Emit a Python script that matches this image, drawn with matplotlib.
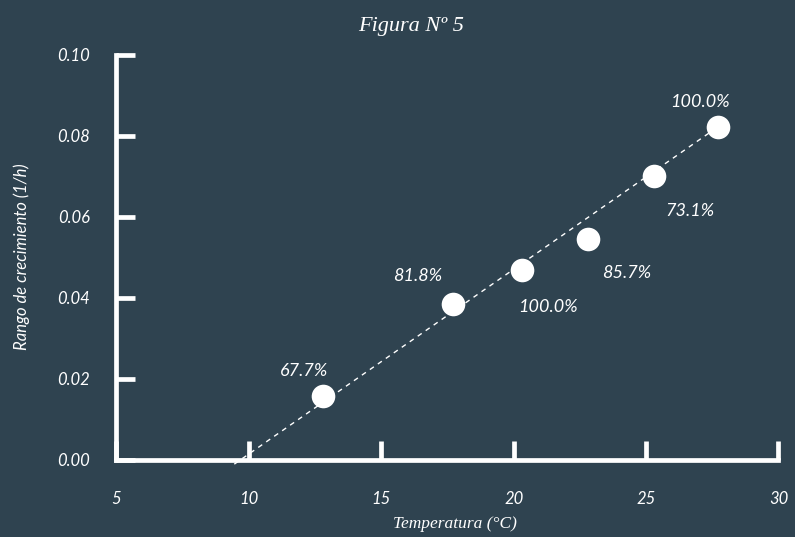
import numpy as np
import matplotlib.pyplot as plt

# growth rate vs temperature
temps = [12.8, 17.7, 20.3, 22.8, 25.3, 27.7]
rates = [0.0157, 0.0384, 0.0468, 0.0544, 0.0700, 0.0821]
pct_labels = ["67.7%", "81.8%", "100.0%", "85.7%", "73.1%", "100.0%"]
# label offsets in points from each marker
label_offsets = [(-14, 18), (-25, 20), (19, -27), (28, -24), (26, -25), (-13, 18)]

# linear trend: rate = slope * (T - t_min)
trend_slope = 0.00456
trend_tmin = 9.7
trend_start = 9.45

bg = "#2f4350"
fg = "white"
sans = "Lato"
serif = "Liberation Serif"

fig = plt.figure(figsize=(7.95, 5.37), dpi=100, facecolor=bg)
ax = fig.add_axes([0.1465, 0.1443, 0.8327, 0.7542], facecolor=bg)

tx = np.array([trend_start, temps[-1]])
ax.plot(tx, trend_slope * (tx - trend_tmin), color=fg, lw=1,
        dashes=(3.5, 3.5), clip_on=False, zorder=2)
ax.plot(temps, rates, "o", color=fg, ms=17, mew=0, zorder=3, clip_on=False)

for x, y, s, (dx, dy) in zip(temps, rates, pct_labels, label_offsets):
    ax.annotate(s, (x, y), xytext=(dx, dy), textcoords="offset points",
                ha="center", va="center", color=fg, fontsize=13,
                family=sans, style="italic")

ax.set_xlim(5, 30)
ax.set_ylim(0, 0.10)
ax.set_xticks([5, 10, 15, 20, 25, 30])
ax.set_yticks([0.00, 0.02, 0.04, 0.06, 0.08, 0.10])
ax.set_yticklabels([f"{v:.2f}" for v in ax.get_yticks()])

for side in ["top", "right"]:
    ax.spines[side].set_visible(False)
for side in ["left", "bottom"]:
    ax.spines[side].set_color(fg)
    ax.spines[side].set_linewidth(3.4)
    ax.spines[side].set_capstyle("projecting")

ax.tick_params(axis="both", direction="in", length=14, width=3.4,
               color=fg, labelcolor=fg, labelsize=12)
ax.tick_params(axis="x", pad=23)
ax.tick_params(axis="y", pad=19)
for lbl in ax.get_xticklabels() + ax.get_yticklabels():
    lbl.set_family(sans)
    lbl.set_style("italic")

ax.set_xlabel("Temperatura (°C)", color=fg, fontsize=12.5, family=serif,
              style="italic", va="center")
ax.xaxis.set_label_coords(0.511, -0.159)
ax.set_ylabel("Rango de crecimiento (1/h)", color=fg, fontsize=12,
              family=sans, style="italic", va="center")
ax.yaxis.set_label_coords(-0.143, 0.5)

fig.text(0.517, 0.95, "Figura Nº 5", color=fg, fontsize=16, family=serif,
         style="italic", ha="center", va="center")

fig.savefig("out.png", dpi=100, facecolor=bg)
